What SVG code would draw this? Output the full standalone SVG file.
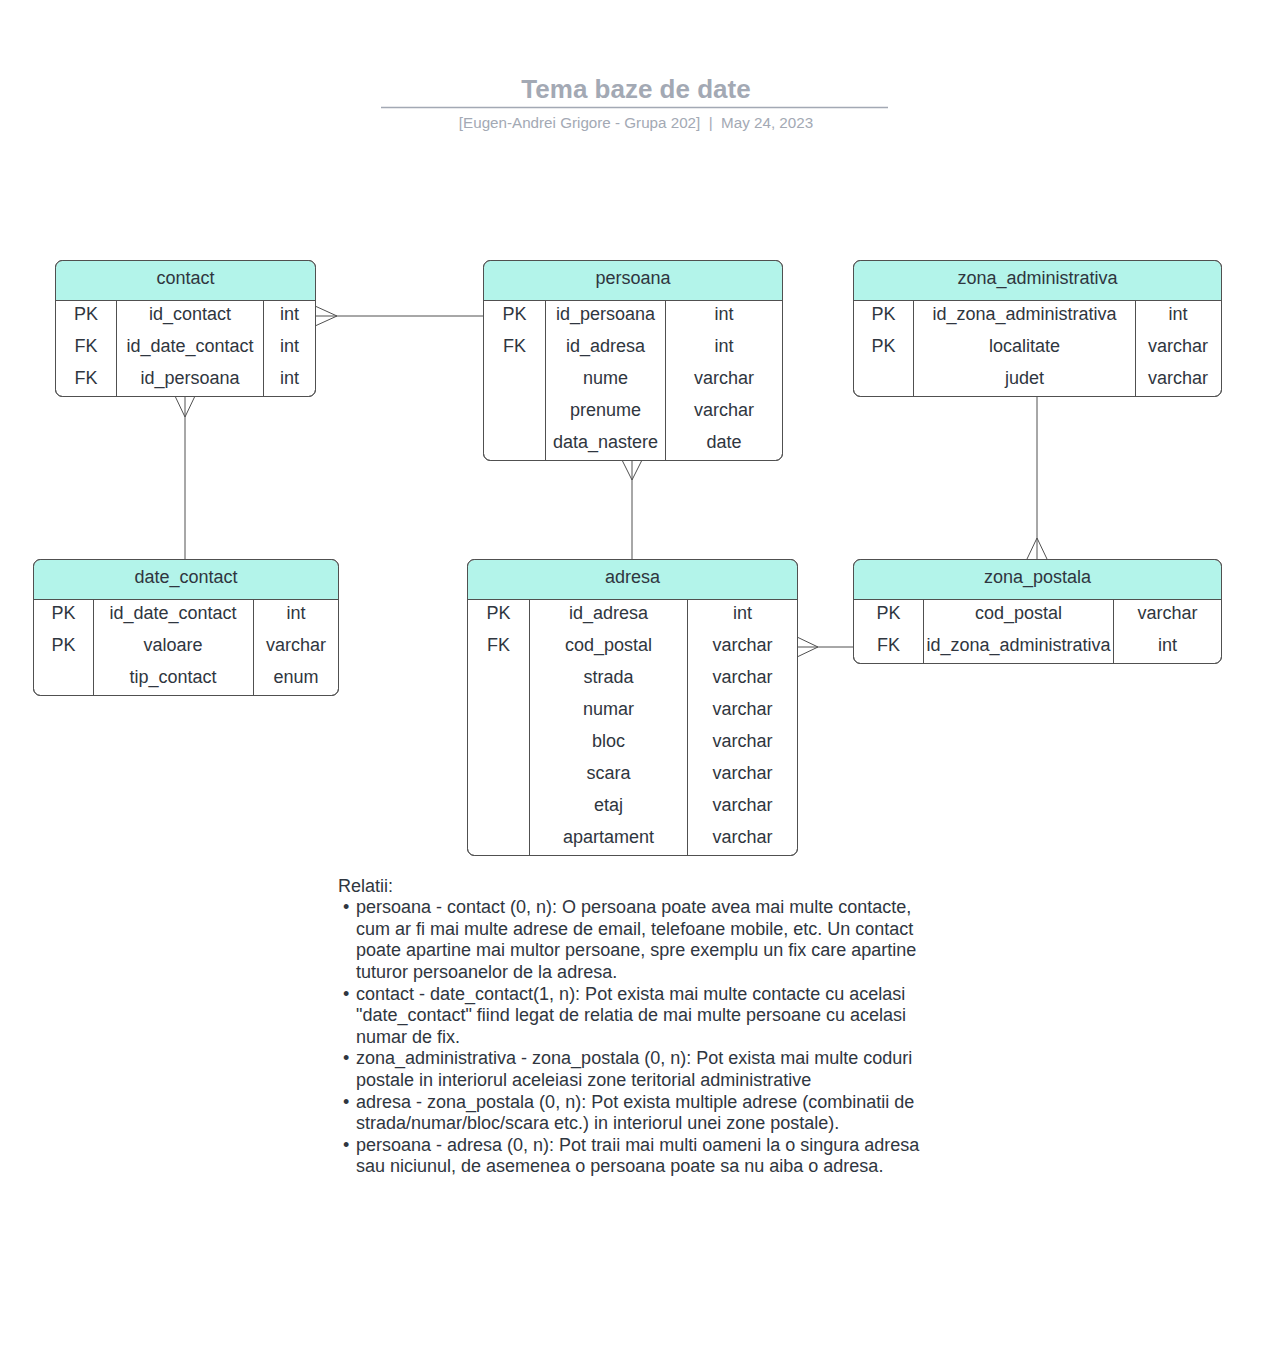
<svg xmlns="http://www.w3.org/2000/svg" width="1280" height="1360" viewBox="0 0 1280 1360">
<style>
.box{fill:#ffffff;stroke:#505050;stroke-width:1}
.hdr{fill:#b3f4ea}
.ln{stroke:#505050;stroke-width:1;fill:none}
text{font-family:"Liberation Sans",Arial,sans-serif;fill:#2f3640}
.t{font-size:18px;text-anchor:middle}
.body{font-size:18px}
</style>
<rect width="1280" height="1360" fill="#ffffff"/>
<g id="title">
<text x="636" y="98" style="font-size:26px;font-weight:bold;fill:#a3a9b4;text-anchor:middle">Tema baze de date</text>
<line x1="381" y1="107.5" x2="888" y2="107.5" style="stroke:#a3a9b4;stroke-width:1.5"/>
<text x="636" y="128" style="font-size:15.2px;fill:#a3a9b4;text-anchor:middle;white-space:pre" xml:space="preserve">[Eugen-Andrei Grigore - Grupa 202]  |  May 24, 2023</text>
</g>
<g id="connectors">
<line class="ln" x1="315" y1="316" x2="483" y2="316"/>
<polyline class="ln" points="315,306 337,316 315,326"/>
<line class="ln" x1="185" y1="396" x2="185" y2="559"/>
<polyline class="ln" points="175,396 185,417 195,396"/>
<line class="ln" x1="632" y1="460" x2="632" y2="559"/>
<polyline class="ln" points="622,460 632,480 642,460"/>
<line class="ln" x1="1037" y1="396" x2="1037" y2="559"/>
<polyline class="ln" points="1027,559 1037,538 1047,559"/>
<line class="ln" x1="797" y1="647" x2="853" y2="647"/>
<polyline class="ln" points="797,637 818,647 797,657"/>
</g>
<g id="contact">
<rect class="box" x="55.5" y="260.5" width="260" height="136" rx="7"/>
<path class="hdr" d="M62.5,261 H308.5 A6.5,6.5 0 0 1 315,267.5 V300 H56 V267.5 A6.5,6.5 0 0 1 62.5,261 Z"/>
<rect x="55.5" y="260.5" width="260" height="136" rx="7" style="fill:none;stroke:#505050"/>
<line class="ln" x1="55.5" y1="300.5" x2="315.5" y2="300.5"/>
<line class="ln" x1="116.5" y1="300.5" x2="116.5" y2="396.5"/>
<line class="ln" x1="263.5" y1="300.5" x2="263.5" y2="396.5"/>
<text class="t" x="185.5" y="284">contact</text>
<text class="t" x="86" y="320">PK</text><text class="t" x="190" y="320">id_contact</text><text class="t" x="289.5" y="320">int</text>
<text class="t" x="86" y="352">FK</text><text class="t" x="190" y="352">id_date_contact</text><text class="t" x="289.5" y="352">int</text>
<text class="t" x="86" y="384">FK</text><text class="t" x="190" y="384">id_persoana</text><text class="t" x="289.5" y="384">int</text>
</g>
<g id="persoana">
<rect class="box" x="483.5" y="260.5" width="299" height="200" rx="7"/>
<path class="hdr" d="M490.5,261 H775.5 A6.5,6.5 0 0 1 782,267.5 V300 H484 V267.5 A6.5,6.5 0 0 1 490.5,261 Z"/>
<rect x="483.5" y="260.5" width="299" height="200" rx="7" style="fill:none;stroke:#505050"/>
<line class="ln" x1="483.5" y1="300.5" x2="782.5" y2="300.5"/>
<line class="ln" x1="545.5" y1="300.5" x2="545.5" y2="460.5"/>
<line class="ln" x1="665.5" y1="300.5" x2="665.5" y2="460.5"/>
<text class="t" x="633" y="284">persoana</text>
<text class="t" x="514.5" y="320">PK</text><text class="t" x="605.5" y="320">id_persoana</text><text class="t" x="724" y="320">int</text>
<text class="t" x="514.5" y="352">FK</text><text class="t" x="605.5" y="352">id_adresa</text><text class="t" x="724" y="352">int</text>
<text class="t" x="605.5" y="384">nume</text><text class="t" x="724" y="384">varchar</text>
<text class="t" x="605.5" y="416">prenume</text><text class="t" x="724" y="416">varchar</text>
<text class="t" x="605.5" y="448">data_nastere</text><text class="t" x="724" y="448">date</text>
</g>
<g id="zona_administrativa">
<rect class="box" x="853.5" y="260.5" width="368" height="136" rx="7"/>
<path class="hdr" d="M860.5,261 H1214.5 A6.5,6.5 0 0 1 1221,267.5 V300 H854 V267.5 A6.5,6.5 0 0 1 860.5,261 Z"/>
<rect x="853.5" y="260.5" width="368" height="136" rx="7" style="fill:none;stroke:#505050"/>
<line class="ln" x1="853.5" y1="300.5" x2="1221.5" y2="300.5"/>
<line class="ln" x1="913.5" y1="300.5" x2="913.5" y2="396.5"/>
<line class="ln" x1="1135.5" y1="300.5" x2="1135.5" y2="396.5"/>
<text class="t" x="1037.5" y="284">zona_administrativa</text>
<text class="t" x="883.5" y="320">PK</text><text class="t" x="1024.5" y="320">id_zona_administrativa</text><text class="t" x="1178" y="320">int</text>
<text class="t" x="883.5" y="352">PK</text><text class="t" x="1024.5" y="352">localitate</text><text class="t" x="1178" y="352">varchar</text>
<text class="t" x="1024.5" y="384">judet</text><text class="t" x="1178" y="384">varchar</text>
</g>
<g id="date_contact">
<rect class="box" x="33.5" y="559.5" width="305" height="136" rx="7"/>
<path class="hdr" d="M40.5,560 H331.5 A6.5,6.5 0 0 1 338,566.5 V599 H34 V566.5 A6.5,6.5 0 0 1 40.5,560 Z"/>
<rect x="33.5" y="559.5" width="305" height="136" rx="7" style="fill:none;stroke:#505050"/>
<line class="ln" x1="33.5" y1="599.5" x2="338.5" y2="599.5"/>
<line class="ln" x1="93.5" y1="599.5" x2="93.5" y2="695.5"/>
<line class="ln" x1="253.5" y1="599.5" x2="253.5" y2="695.5"/>
<text class="t" x="186" y="583">date_contact</text>
<text class="t" x="63.5" y="619">PK</text><text class="t" x="173" y="619">id_date_contact</text><text class="t" x="296" y="619">int</text>
<text class="t" x="63.5" y="651">PK</text><text class="t" x="173" y="651">valoare</text><text class="t" x="296" y="651">varchar</text>
<text class="t" x="173" y="683">tip_contact</text><text class="t" x="296" y="683">enum</text>
</g>
<g id="adresa">
<rect class="box" x="467.5" y="559.5" width="330" height="296" rx="7"/>
<path class="hdr" d="M474.5,560 H790.5 A6.5,6.5 0 0 1 797,566.5 V599 H468 V566.5 A6.5,6.5 0 0 1 474.5,560 Z"/>
<rect x="467.5" y="559.5" width="330" height="296" rx="7" style="fill:none;stroke:#505050"/>
<line class="ln" x1="467.5" y1="599.5" x2="797.5" y2="599.5"/>
<line class="ln" x1="529.5" y1="599.5" x2="529.5" y2="855.5"/>
<line class="ln" x1="687.5" y1="599.5" x2="687.5" y2="855.5"/>
<text class="t" x="632.5" y="583">adresa</text>
<text class="t" x="498.5" y="619">PK</text><text class="t" x="608.5" y="619">id_adresa</text><text class="t" x="742.5" y="619">int</text>
<text class="t" x="498.5" y="651">FK</text><text class="t" x="608.5" y="651">cod_postal</text><text class="t" x="742.5" y="651">varchar</text>
<text class="t" x="608.5" y="683">strada</text><text class="t" x="742.5" y="683">varchar</text>
<text class="t" x="608.5" y="715">numar</text><text class="t" x="742.5" y="715">varchar</text>
<text class="t" x="608.5" y="747">bloc</text><text class="t" x="742.5" y="747">varchar</text>
<text class="t" x="608.5" y="779">scara</text><text class="t" x="742.5" y="779">varchar</text>
<text class="t" x="608.5" y="811">etaj</text><text class="t" x="742.5" y="811">varchar</text>
<text class="t" x="608.5" y="843">apartament</text><text class="t" x="742.5" y="843">varchar</text>
</g>
<g id="zona_postala">
<rect class="box" x="853.5" y="559.5" width="368" height="104" rx="7"/>
<path class="hdr" d="M860.5,560 H1214.5 A6.5,6.5 0 0 1 1221,566.5 V599 H854 V566.5 A6.5,6.5 0 0 1 860.5,560 Z"/>
<rect x="853.5" y="559.5" width="368" height="104" rx="7" style="fill:none;stroke:#505050"/>
<line class="ln" x1="853.5" y1="599.5" x2="1221.5" y2="599.5"/>
<line class="ln" x1="923.5" y1="599.5" x2="923.5" y2="663.5"/>
<line class="ln" x1="1113.5" y1="599.5" x2="1113.5" y2="663.5"/>
<text class="t" x="1037.5" y="583">zona_postala</text>
<text class="t" x="888.5" y="619">PK</text><text class="t" x="1018.5" y="619">cod_postal</text><text class="t" x="1167.5" y="619">varchar</text>
<text class="t" x="888.5" y="651">FK</text><text class="t" x="1018.5" y="651">id_zona_administrativa</text><text class="t" x="1167.5" y="651">int</text>
</g>
<g id="notes">
<text x="338" y="892" class="body">Relatii:</text>
<text class="body" x="343" y="913">•</text><text class="body" x="356" y="913">persoana - contact (0, n): O persoana poate avea mai multe contacte,</text>
<text class="body" x="356" y="935">cum ar fi mai multe adrese de email, telefoane mobile, etc. Un contact</text>
<text class="body" x="356" y="956">poate apartine mai multor persoane, spre exemplu un fix care apartine</text>
<text class="body" x="356" y="978">tuturor persoanelor de la adresa.</text>
<text class="body" x="343" y="1000">•</text><text class="body" x="356" y="1000">contact - date_contact(1, n): Pot exista mai multe contacte cu acelasi</text>
<text class="body" x="356" y="1021">"date_contact" fiind legat de relatia de mai multe persoane cu acelasi</text>
<text class="body" x="356" y="1043">numar de fix.</text>
<text class="body" x="343" y="1064">•</text><text class="body" x="356" y="1064">zona_administrativa - zona_postala (0, n): Pot exista mai multe coduri</text>
<text class="body" x="356" y="1086">postale in interiorul aceleiasi zone teritorial administrative</text>
<text class="body" x="343" y="1108">•</text><text class="body" x="356" y="1108">adresa - zona_postala (0, n): Pot exista multiple adrese (combinatii de</text>
<text class="body" x="356" y="1129">strada/numar/bloc/scara etc.) in interiorul unei zone postale).</text>
<text class="body" x="343" y="1151">•</text><text class="body" x="356" y="1151">persoana - adresa (0, n): Pot traii mai multi oameni la o singura adresa</text>
<text class="body" x="356" y="1172">sau niciunul, de asemenea o persoana poate sa nu aiba o adresa.</text>
</g>
</svg>
